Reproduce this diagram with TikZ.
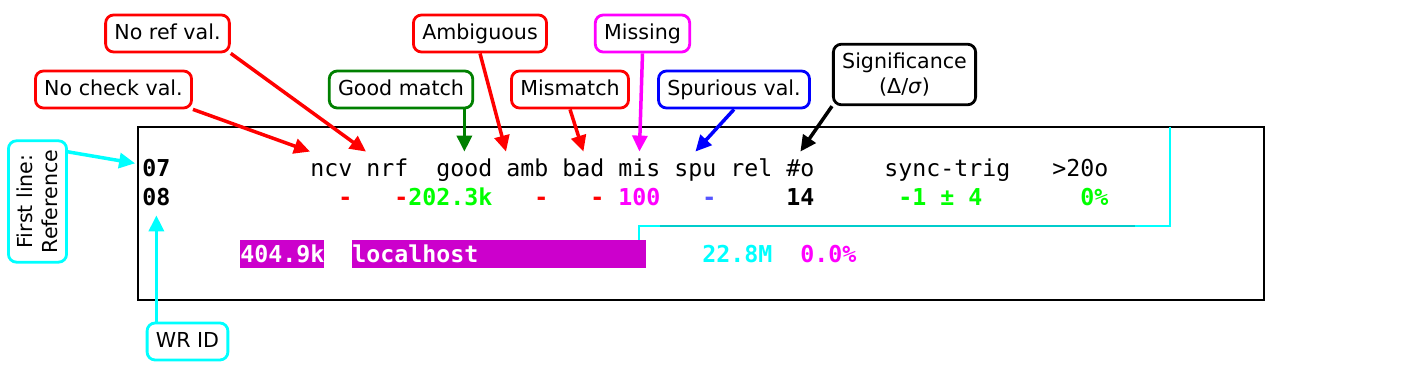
\documentclass[tikz,border=0pt]{standalone}
\usepackage{fontspec}
\setmainfont{DejaVu Sans}
\newfontfamily\termfont{DejaVu Sans Mono}
\newcommand{\termtext}{\termfont\fontsize{11.63pt}{14pt}\selectfont}
\usetikzlibrary{arrows.meta,calc}
\definecolor{termRed}{HTML}{FF0000}
\definecolor{termGreen}{HTML}{00FF00}
\definecolor{termMagenta}{HTML}{FF00FF}
\definecolor{termBlue}{HTML}{5555FF}
\definecolor{termCyan}{HTML}{00FFFF}
\definecolor{termDarkCyan}{HTML}{00CCCC}
\definecolor{hlMagenta}{HTML}{CC00CC}
\definecolor{mplGreen}{HTML}{008000}
\definecolor{mplBlue}{HTML}{0000FF}
\begin{document}
\begin{tikzpicture}
[x=0.5pt,y=-0.5pt,%
  labelDecorate/.style={draw,line width=1.4pt,rounded corners=4pt,fill=white,%
    inner xsep=4.4pt,inner ysep=4.4pt,font=\fontsize{10.3pt}{12.3pt}\selectfont,align=center},%
  oneLine/.style={text height=7.7pt,text depth=2pt},%
  arrowDecorate/.style={-{Triangle[length=8pt,width=7.5pt]},line width=1.75pt},%
  hdrDecorate/.style={inner sep=0pt,anchor=base west,text height=12.5pt,text depth=0pt,font=\termtext},%
  rowDecorate/.style={hdrDecorate,font=\termtext\bfseries},%
  valDecorate/.style={inner sep=0pt,anchor=base west,font=\termtext\bfseries},%
  hlDecorate/.style={valDecorate,fill=hlMagenta,text=white,text height=11.5pt,text depth=2.75pt}]
\useasboundingbox (0,0) rectangle (1404,368);
%% terminal window
\draw[line width=1.4pt] (138,127) rectangle (1264,300);
\draw[termCyan,line width=0.75pt] (1170,127) -- (1170,226) -- (639,226) -- (639,240);
\draw[termDarkCyan,line width=0.75pt] (660,226) -- (1135,226);
%% first line (reference)
\node (r07) at (142,177) [rowDecorate] {07};
\node (ncv) at (310,177) [hdrDecorate] {ncv};
\node (nrf) at (366,177) [hdrDecorate] {nrf};
\node (good) at (436,177) [hdrDecorate] {good};
\node (amb) at (506,177) [hdrDecorate] {amb};
\node (bad) at (562,177) [hdrDecorate] {bad};
\node (mis) at (618,177) [hdrDecorate] {mis};
\node (spu) at (674,177) [hdrDecorate] {spu};
\node (rel) at (730,177) [hdrDecorate] {rel};
\node (nobs) at (786,177) [hdrDecorate] {\#o};
\node (sync) at (884,177) [hdrDecorate] {sync-trig};
\node (gt20) at (1052,177) [hdrDecorate] {>20o};
%% second line
\node (r08) at (142,206) [rowDecorate] {08};
\node (vncv) at (338,206) [valDecorate,text=termRed] {-};
\node (vnrf) at (394,206) [valDecorate,text=termRed] {-};
\node (vgood) at (408,206) [valDecorate,text=termGreen] {202.3k};
\node (vamb) at (534,206) [valDecorate,text=termRed] {-};
\node (vbad) at (590,206) [valDecorate,text=termRed] {-};
\node (vmis) at (618,206) [valDecorate,text=termMagenta] {100};
\node (vspu) at (702,206) [valDecorate,text=termBlue] {-};
\node (vnobs) at (786,206) [valDecorate] {14};
\node (vsync) at (898,206) [valDecorate,text=termGreen] {-1 ± 4};
\node (vgt20) at (1080,206) [valDecorate,text=termGreen] {0\%};
%% third line
\node (vnsamp) at (240,263) [hlDecorate] {404.9k};
\node (vhost) at (352,263) [hlDecorate] {\makebox[147pt][l]{localhost}};
\node (vsize) at (702,263) [valDecorate,text=termCyan] {22.8M};
\node (vpct) at (800,263) [valDecorate,text=termMagenta] {0.0\%};
%% labels
\node (noref) at (167.5,33.5) [labelDecorate,oneLine,draw=termRed] {No ref val.};
\node (nocheck) at (113.5,89.5) [labelDecorate,oneLine,draw=termRed] {No check val.};
\node (ambig) at (480,33.5) [labelDecorate,oneLine,draw=termRed] {Ambiguous};
\node (missing) at (642.5,33.5) [labelDecorate,oneLine,draw=termMagenta] {Missing};
\node (goodm) at (401,89.5) [labelDecorate,oneLine,draw=mplGreen] {Good match};
\node (mismatch) at (570,89.5) [labelDecorate,oneLine,draw=termRed] {Mismatch};
\node (spurious) at (734,89.5) [labelDecorate,oneLine,draw=mplBlue] {Spurious val.};
\node (signif) at (904.5,74.5) [labelDecorate] {Significance\\(Δ/\textit{σ})};
\node (firstline) at (37.5,201.5) [labelDecorate,draw=termCyan,rotate=90] {First line:\\Reference};
\node (wrid) at (187.5,341.5) [labelDecorate,oneLine,draw=termCyan] {WR ID};
%% arrows
\path (nocheck.south east) edge[arrowDecorate,termRed] (ncv.north west);
\path (noref.south east) edge[arrowDecorate,termRed] (nrf.north west);
\path (goodm.south -| good.north) edge[arrowDecorate,mplGreen] (good.north);
\path (ambig.south) edge[arrowDecorate,termRed] (amb.north west);
\path (mismatch.south) edge[arrowDecorate,termRed] (bad.north);
\path (missing.south) edge[arrowDecorate,termMagenta] (mis.north);
\path (spurious.south) edge[arrowDecorate,mplBlue] (spu.north);
\path (signif.south west) edge[arrowDecorate,black] (nobs.north);
\path ($(firstline.south)!0.8!(firstline.south east)$) edge[arrowDecorate,termCyan,shorten >=3.5pt] (r07.west);
\path (wrid.north -| r08.south) edge[arrowDecorate,termCyan,shorten >=4.5pt] (r08.south);
\end{tikzpicture}
\end{document}
